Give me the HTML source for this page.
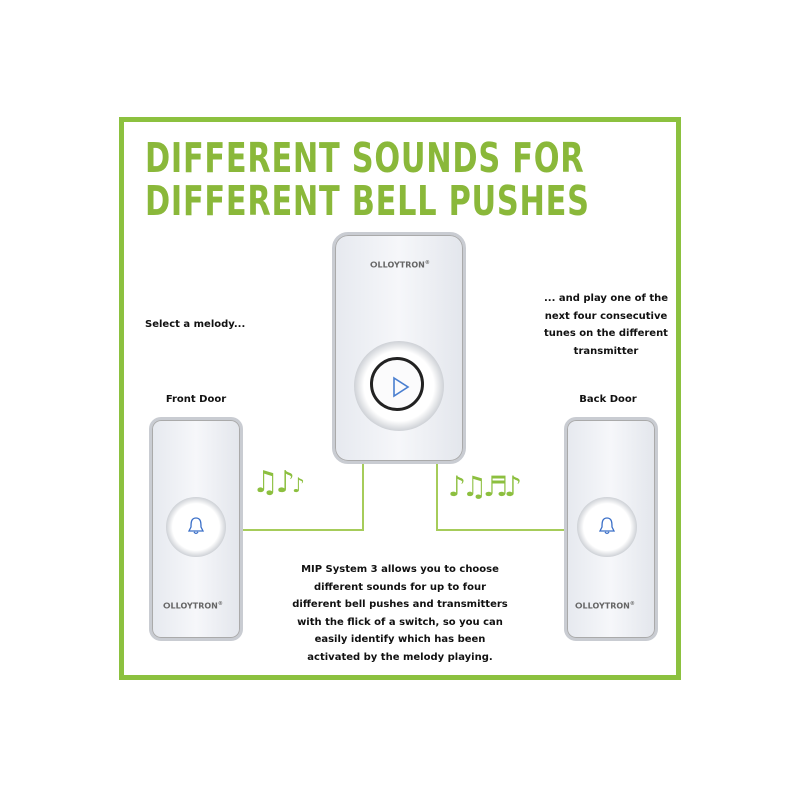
<!DOCTYPE html><html><head><style>
body{margin:0;width:800px;height:800px;background:#fff;position:relative;overflow:hidden;font-family:"DejaVu Sans","Liberation Sans",sans-serif}
.frame{position:absolute;left:119px;top:117px;width:552px;height:553px;border:5px solid #8cc13f}
.t{position:absolute;left:145px;color:#8ab83a;font-weight:bold;font-size:41px;letter-spacing:1px;font-family:"DejaVu Sans",sans-serif;transform:scaleX(0.74);transform-origin:left;white-space:nowrap;line-height:41px}
.s{position:absolute;font-size:10px;font-weight:bold;color:#111;text-align:center;line-height:17.6px}
.dev{position:absolute;background:linear-gradient(90deg,#e6e9ef,#f6f7fa 50%,#e3e6ec);border:3px solid #c9ccd2;box-shadow:0 0 0 1px #aaa inset}
.ring{position:absolute;border-radius:50%;background:radial-gradient(#fff 55%,#d0d3d8 70%,#b8bbc0);}
.logo{position:absolute;font-size:8px;font-weight:bold;color:#666;}
.ln{position:absolute;background:#a6cc5a}
</style></head><body>
<div class="frame"></div>
<div class="t" style="top:138px">DIFFERENT SOUNDS FOR</div>
<div class="t" style="top:181px">DIFFERENT BELL PUSHES</div>
<div class="s" style="left:145px;top:316px;text-align:left">Select a melody...</div>
<div class="s" style="left:520px;top:290px;width:172px">... and play one of the<br>next four consecutive<br>tunes on the different<br>transmitter</div>
<div class="s" style="left:146px;top:391px;width:100px">Front Door</div>
<div class="s" style="left:558px;top:391px;width:100px">Back Door</div>
<div class="s" style="left:260px;top:561px;width:280px">MIP System 3 allows you to choose<br>different sounds for up to four<br>different bell pushes and transmitters<br>with the flick of a switch, so you can<br>easily identify which has been<br>activated by the melody playing.</div>
<div class="ln" style="left:242px;top:529px;width:122px;height:2px"></div>
<div class="ln" style="left:362px;top:462px;width:2px;height:69px"></div>
<div class="ln" style="left:436px;top:462px;width:2px;height:69px"></div>
<div class="ln" style="left:436px;top:529px;width:130px;height:2px"></div>
<div class="dev" style="left:332px;top:232px;width:128px;height:226px;border-radius:16px"></div>
<div class="logo" style="left:370px;top:260px">ⵔLLOYTRON<sup style="font-size:5px">®</sup></div>
<div class="ring" style="left:354px;top:341px;width:90px;height:90px"></div>
<div style="position:absolute;left:370px;top:357px;width:54px;height:54px;border:3px solid #222;border-radius:50%;background:#fbfbfc;box-sizing:border-box"></div>
<svg style="position:absolute;left:390px;top:376px" width="22" height="22"><path d="M4 2 L18 11 L4 20 Z" fill="none" stroke="#4a7fd0" stroke-width="1.6"/></svg>
<div class="dev" style="left:149px;top:417px;width:88px;height:218px;border-radius:12px"></div>
<div class="ring" style="left:166px;top:497px;width:60px;height:60px"></div>
<svg style="position:absolute;left:186px;top:516px" width="20" height="20"><path d="M10 2 C5 2 5 7 5 11 L3 15 H17 L15 11 C15 7 15 2 10 2 Z M8 16 Q10 19 12 16" fill="none" stroke="#3a6fc8" stroke-width="1.3"/></svg>
<div class="logo" style="left:163px;top:601px">ⵔLLOYTRON<sup style="font-size:5px">®</sup></div>
<div class="dev" style="left:564px;top:417px;width:88px;height:218px;border-radius:12px"></div>
<div class="ring" style="left:577px;top:497px;width:60px;height:60px"></div>
<svg style="position:absolute;left:597px;top:516px" width="20" height="20"><path d="M10 2 C5 2 5 7 5 11 L3 15 H17 L15 11 C15 7 15 2 10 2 Z M8 16 Q10 19 12 16" fill="none" stroke="#3a6fc8" stroke-width="1.3"/></svg>
<div class="logo" style="left:575px;top:601px">ⵔLLOYTRON<sup style="font-size:5px">®</sup></div>
<div style="position:absolute;left:252px;top:465px;color:#8cbf3f;font-size:30px;letter-spacing:-3px">♫♪<span style="font-size:20px">♪</span></div>
<div style="position:absolute;left:448px;top:470px;color:#8cbf3f;font-size:28px;letter-spacing:-4px">♪♫♬♪</div>
</body></html>
